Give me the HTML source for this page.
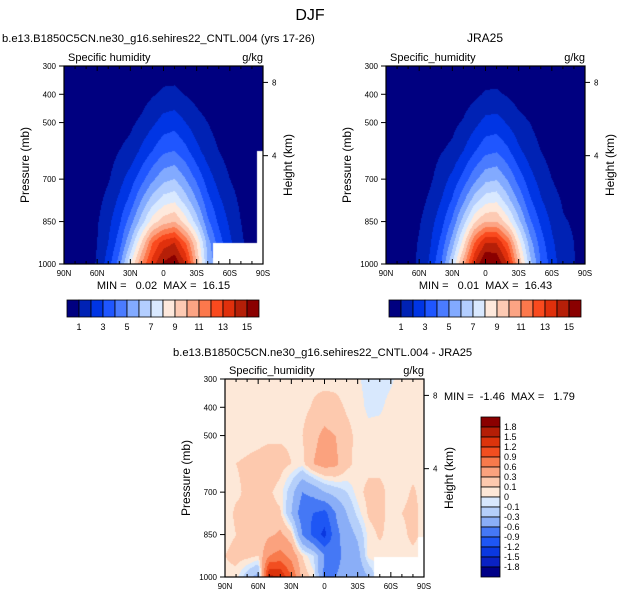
<!DOCTYPE html>
<html><head><meta charset="utf-8">
<style>
body{margin:0;background:#fff;width:621px;height:600px;position:relative;overflow:hidden;font-family:"Liberation Sans",sans-serif}
canvas{position:absolute}
svg{position:absolute;left:0;top:0}
text{white-space:pre}
</style></head>
<body>
<canvas id="c1"></canvas>
<canvas id="c2"></canvas>
<canvas id="c3"></canvas>
<svg id="ov" width="621" height="600"></svg>
<script>
// ---- data ----
const lats = [90,80,70,60,50,40,30,20,10,0,-10,-20,-30,-40,-50,-60,-70,-80,-90];
const pressures = [1000,925,850,775,700,600,500,400,300];
const qLevels = [1,2,3,4,5,6,7,8,9,10,11,12,13,14,15];
const qLabels = ["1","3","5","7","9","11","13","15"];
const dLevels = [-1.8,-1.5,-1.2,-0.9,-0.6,-0.3,-0.1,0,0.1,0.3,0.6,0.9,1.2,1.5,1.8];
const pTicks = [300,400,500,700,850,1000];
const latTicks = [90,60,30,0,-30,-60,-90];
const latTickLabels = ["90N","60N","30N","0","30S","60S","90S"];
const heightTicks = [8,4];
const heightTickPressures = [358,617];
const qColors = ["#000080","#0022b4","#0035e4","#1f56ff","#4a7bff","#82aaff","#b3ceff","#d9e9ff","#fee9dc","#fdcab3","#fca484","#fc784c","#fa4a1e","#e0300c","#b51f08","#8a0000"];
const dColors = ["#000087","#0a22c4","#0a38e0","#1e56f4","#4578f5","#8aaef7","#b5cffa","#d8e8fd","#fde8d8","#fdc9ae","#fba27e","#f87a4c","#f24e20","#dc340c","#b41e06","#8a0000"];

const modelQ = [
[.2,.3,.5,1.1,2.5,4.5,8,11,13.5,15.2,15.8,14,10,6,4,2.5,1.5,.6,.2],
[.2,.3,.5,1.0,2,3.5,6,9,12,13.5,14,12,9,5.5,3.5,2.2,1.2,.5,.2],
[.15,.25,.5,.9,1.7,2.8,4.5,6.5,8.5,9.5,10,8.5,6.5,4.2,2.8,1.8,1.0,.4,.15],
[.1,.2,.4,.7,1.3,2.2,3.3,5,6.5,7.5,7.8,6.5,5,3.3,2.2,1.4,.8,.3,.1],
[.1,.15,.3,.5,.9,1.6,2.5,3.6,4.8,5.7,6,5,3.8,2.5,1.6,1.0,.6,.2,.1],
[.05,.1,.2,.35,.6,1.0,1.3,2.2,3,3.8,4,3.3,2.3,1.5,1.0,.6,.35,.1,.05],
[.03,.05,.1,.2,.35,.6,.8,1.2,1.8,2.4,2.6,2.0,1.4,1.0,.6,.35,.2,.05,.03],
[.02,.03,.05,.1,.15,.25,.35,.55,.9,1.2,1.25,.95,.65,.4,.25,.15,.08,.03,.02],
[.01,.02,.03,.05,.07,.1,.15,.2,.3,.45,.45,.35,.25,.15,.1,.06,.03,.02,.01]];
const jraQ = [
[.2,.3,.6,1.2,2.2,4,7,10.5,14,16.4,16,14,10,6.5,4,2.5,1.5,1.1,.3],
[.2,.3,.5,1.1,1.9,3.3,5.5,8.5,12,14,14,12,8.5,5.5,3.5,2.2,1.3,1.0,.3],
[.15,.25,.45,.9,1.6,2.6,4.2,6.5,8.8,10,10,8.5,6.3,4.2,2.8,1.8,1.1,.9,.2],
[.1,.2,.35,.65,1.2,2,3.1,4.8,6.5,7.6,7.8,6.4,4.8,3.2,2.1,1.4,.9,.4,.1],
[.1,.15,.3,.5,.85,1.5,2.3,3.4,4.7,5.7,5.9,4.9,3.6,2.4,1.6,1.0,.6,.2,.1],
[.05,.1,.2,.35,.6,.95,1.2,2,2.9,3.7,3.9,3.2,2.2,1.5,1.0,.6,.3,.1,.05],
[.03,.05,.1,.2,.35,.55,.75,1.1,1.7,2.3,2.4,1.9,1.3,1.0,.6,.35,.2,.05,.03],
[.02,.03,.05,.1,.15,.25,.35,.5,.8,1.1,1.15,.9,.6,.4,.25,.15,.08,.03,.02],
[.01,.02,.03,.05,.07,.1,.15,.2,.3,.4,.4,.3,.25,.15,.1,.06,.03,.02,.01]];
const diffQ = [
[.05,.05,-.2,-.4,1.6,1.5,.9,.2,.05,-.7,-.6,-.5,-.5,-.3,.05,.05,.05,.05,.05],
[.1,.15,.15,.1,.6,.7,.5,.1,-.1,-.6,-.7,-.5,-.4,.05,.05,.05,.05,.05,.05],
[.05,.1,.12,.15,.25,.35,.15,-.6,-1.0,-1.3,-.7,-.45,-.25,.05,.12,.05,.05,.15,.05],
[.05,.12,.12,.15,.15,.12,-.3,-.8,-.9,-1.0,-.6,-.3,-.05,.12,.15,.05,.1,.15,.05],
[.05,.08,.12,.15,.12,.05,-.2,-.6,-.5,-.3,-.2,-.1,.05,.15,.15,.05,.05,.12,.05],
[.08,.1,.12,.15,.2,.15,.1,.05,.3,.4,.35,.15,.05,.05,.05,.05,.05,.05,.05],
[.05,.05,.05,.05,.06,.08,.08,.1,.25,.35,.3,.15,.06,.05,.05,.05,.05,.05,.05],
[.05,.05,.05,.05,.05,.05,.05,.05,.12,.2,.15,.08,.05,-.03,-.02,.04,.05,.05,.05],
[.05,.05,.05,.05,.05,.05,.05,.05,.05,.03,.05,.05,.02,-.05,-.05,-.02,.05,.05,.05]];
const modelPsurf = [1100,1100,1100,1100,1100,1100,1100,1100,1100,1100,1100,1100,1100,1100,925,925,925,925,600];
const jraPsurf = [1100,1100,1100,1100,1100,1100,1100,1100,1100,1100,1100,1100,1100,1100,1100,1100,1100,1100,1100];
const diffPsurf = [1100,1100,1100,1100,1100,1100,1100,1100,1100,1100,1100,1100,1100,1100,930,930,930,930,860];

// ---- geometry ----
const W=199,H=198;
function xOf(lat,x0){return x0+(90-lat)/180*W;}
function yOf(p,y0){return y0+(p-300)/700*H;}
function sample(grid,lat,p){
  let fi=(90-lat)/10; let i=Math.min(17,Math.floor(fi)); let tx=fi-i;
  let r=0; while(r<7 && p<pressures[r+1]) r++;
  let ty=(pressures[r]-p)/(pressures[r]-pressures[r+1]);
  ty=Math.max(0,Math.min(1,ty));
  const a=grid[r][i],b=grid[r][i+1],c=grid[r+1][i],d=grid[r+1][i+1];
  return (a*(1-tx)+b*tx)*(1-ty)+(c*(1-tx)+d*tx)*ty;
}
function hex(h){return [parseInt(h.substr(1,2),16),parseInt(h.substr(3,2),16),parseInt(h.substr(5,2),16)];}
function drawField(id,x0,y0,grid,levels,colors,psurf){
  const cv=document.getElementById(id);
  cv.width=W;cv.height=H;cv.style.left=x0+'px';cv.style.top=y0+'px';
  const ctx=cv.getContext('2d');const img=ctx.createImageData(W,H);
  const cols=colors.map(hex);
  for(let py=0;py<H;py++){
    const p=300+(py+0.5)/H*700;
    for(let px=0;px<W;px++){
      const lat=90-(px+0.5)/W*180;
      const li=Math.round((90-lat)/10);
      const k=(py*W+px)*4;
      if(p>psurf[li]){img.data[k]=255;img.data[k+1]=255;img.data[k+2]=255;img.data[k+3]=255;continue;}
      const v=sample(grid,lat,p);
      let ci=0;while(ci<levels.length&&v>=levels[ci])ci++;
      const c=cols[ci];
      img.data[k]=c[0];img.data[k+1]=c[1];img.data[k+2]=c[2];img.data[k+3]=255;
    }
  }
  ctx.putImageData(img,0,0);
}
drawField('c1',64,66,modelQ,qLevels,qColors,modelPsurf);
drawField('c2',386,66,jraQ,qLevels,qColors,jraPsurf);
drawField('c3',225,379,diffQ,dLevels,dColors,diffPsurf);

// ---- overlay ----
const NS="http://www.w3.org/2000/svg";
const ov=document.getElementById('ov');
function el(tag,attrs,parent){const e=document.createElementNS(NS,tag);for(const k in attrs)e.setAttribute(k,attrs[k]);(parent||ov).appendChild(e);return e;}
function txt(s,x,y,size,anchor,parent){const t=el('text',{x:x,y:y,'font-size':size,'text-anchor':anchor||'start',fill:'#000'},parent);t.textContent=s;return t;}

function frame(x0,y0,name,left,showMinMax,mm){
  const g=el('g',{});
  
  
  const r=el('rect',{x:x0,y:y0,width:W,height:H,fill:'none',stroke:'#000','stroke-width':1.2},g);
  
  
  for(let lat=90;lat>=-90;lat-=10){
    const x=xOf(lat,x0); const major=lat%30===0; const L=major?5:3;
    el('line',{x1:x,y1:y0+H,x2:x,y2:y0+H-L,stroke:'#000','stroke-width':1},g);
    el('line',{x1:x,y1:y0,x2:x,y2:y0+L,stroke:'#000','stroke-width':1},g);
  }
  latTicks.forEach((lat,i)=>{
    const t=txt(latTickLabels[i],xOf(lat,x0),y0+H+12,8,'middle',g);
    
    
  });
  pTicks.forEach(p=>{
    const y=yOf(p,y0);
    el('line',{x1:x0-5,y1:y,x2:x0,y2:y,stroke:'#000','stroke-width':1},g);
    const t=txt(String(p),x0-8,y+3,8,'end',g);
    
    
  });
  heightTicks.forEach((h,i)=>{
    const y=yOf(heightTickPressures[i],y0);
    el('line',{x1:x0+W,y1:y,x2:x0+W+5,y2:y,stroke:'#000','stroke-width':1},g);
    const t=txt(String(h),x0+W+9,y+3,8,'start',g);
    
    
  });
  const lt=txt(left,x0+4,y0-5,11,'start',g);
  
  
  const rt=txt('g/kg',x0+W,y0-5,11,'end',g);
  
  
  const yl=txt('Pressure (mb)',0,0,12,'middle',g);
  yl.setAttribute('transform','translate('+(x0-35)+','+(y0+H/2)+') rotate(-90)');
  
  
  const hl=txt('Height (km)',0,0,12,'middle',g);
  hl.setAttribute('transform','translate('+(x0+W+29)+','+(y0+H/2)+') rotate(-90)');
  
  
  if(showMinMax){
    const m=txt(mm,x0+W/2,y0+H+25,11,'middle',g);
    
    
  }
}
frame(64,66,'model-panel','Specific humidity',true,'MIN =   0.02  MAX =  16.15');
frame(386,66,'jra25-panel','Specific_humidity',true,'MIN =   0.01  MAX =  16.43');
frame(225,379,'difference-panel','Specific_humidity',false,'');

function hbar(x0,y0,name){
  const g=el('g',{});
  
  
  const bw=12;
  qColors.forEach((c,i)=>{
    const r=el('rect',{x:x0+i*bw,y:y0,width:bw,height:17,fill:c,stroke:'#000','stroke-width':0.8},g);
    
    
  });
  qLabels.forEach((s,i)=>{
    const t=txt(s,x0+bw*(1+2*i),y0+30,9,'middle',g);
    
    
  });
}
hbar(67,300,'model-colorbar');
hbar(389,300,'jra25-colorbar');

(function(){
  const g=el('g',{});
  
  
  const x0=481,y0=417,bh=10;
  for(let i=0;i<16;i++){
    const r=el('rect',{x:x0,y:y0+i*bh,width:19,height:bh,fill:dColors[15-i],stroke:'#000','stroke-width':0.8},g);
    
    
  }
  for(let i=0;i<15;i++){
    const v=dLevels[14-i];
    const s=(v===0)?'0':(v<0?'-':'')+Math.abs(v).toFixed(1);
    const t=txt(s,x0+23,y0+(i+1)*bh+3,9,'start',g);
    
    
  }
})();

const t1=txt('DJF',310,20,16,'middle');


const t2=txt('b.e13.B1850C5CN.ne30_g16.sehires22_CNTL.004 (yrs 17-26)',2,42,11.2,'start');


const t3=txt('JRA25',485,42,12,'middle');


const t4=txt('b.e13.B1850C5CN.ne30_g16.sehires22_CNTL.004 - JRA25',173,356,11.2,'start');


const t5=txt('MIN =  -1.46  MAX =   1.79',444,400,11,'start');


</script>
</body></html>
